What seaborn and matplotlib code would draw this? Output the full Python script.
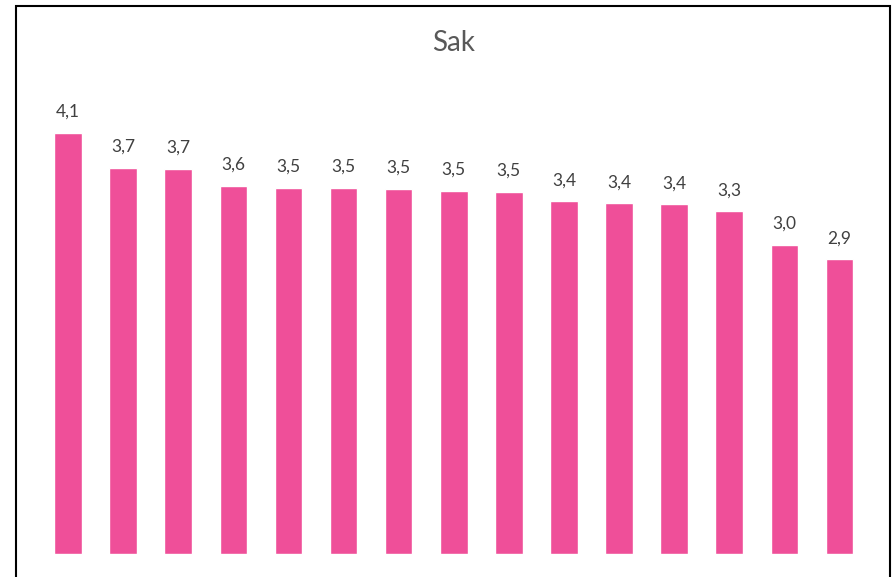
import matplotlib
matplotlib.use("Agg")
import matplotlib.pyplot as plt
import seaborn as sns
import pandas as pd
from matplotlib.patches import Rectangle

# Dane
kategorie = ["K1", "K2", "K3", "K4", "K5", "K6", "K7", "K8",
             "K9", "K10", "K11", "K12", "K13", "K14", "K15"]
wartosci = [4.07, 3.73, 3.72, 3.56, 3.54, 3.54, 3.53, 3.51,
            3.50, 3.41, 3.39, 3.38, 3.31, 2.99, 2.85]
tytul = "Sak"

df = pd.DataFrame({"Kategoria": kategorie, "Wartosc": wartosci})

sns.set_theme(style="white")
plt.rcParams["font.family"] = ["Lato", "DejaVu Sans"]

fig = plt.figure(figsize=(8.94, 5.77), dpi=100)
ax = fig.add_axes([0.0453, 0.0399, 0.9245, 0.8072])

sns.barplot(data=df, x="Kategoria", y="Wartosc", color="#EF4F99",
            width=0.5, saturation=1, ax=ax)
ax.set_ylim(0, 4.5)
ax.set_xlim(-0.5, len(kategorie) - 0.5)
ax.axis("off")

# etykiety z przecinkiem dziesiętnym
for i, v in enumerate(wartosci):
    ax.annotate(f"{v:.1f}".replace(".", ","), (i, v), xytext=(0, 15),
                textcoords="offset points", ha="center", va="center",
                fontsize=12.5, color="#404040")

fig.text(0.507, 0.925, tytul, ha="center", va="center",
         fontsize=20, color="#595959")

# ramka wykresu
fig.patches.append(Rectangle((16, -20), 874, 591, transform=None,
                             fill=False, edgecolor="black", linewidth=1.5))

fig.savefig("out.png", dpi=100)
